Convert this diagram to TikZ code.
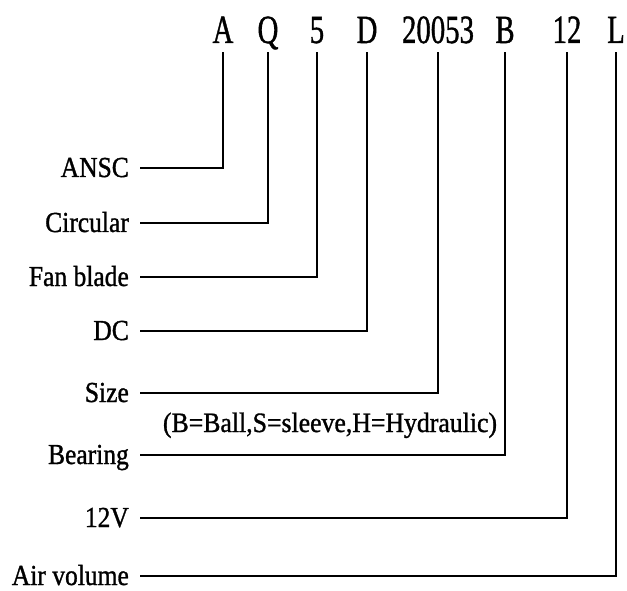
\documentclass[tikz,border=0pt]{standalone}
\usepackage{fontspec}
\setmainfont[FakeBold=1.2]{Liberation Serif}
\begin{document}
\begin{tikzpicture}[x=1pt,y=-1pt,
  toplet/.style={anchor=base,inner sep=0pt,font=\fontsize{40}{40}\selectfont,xscale=0.72},
  lbl/.style={anchor=base east,inner sep=0pt,font=\fontsize{29}{29}\selectfont,xscale=0.88},
  conn/.style={line width=2.6pt,line join=miter}]
\useasboundingbox (0,0) rectangle (627,591);
% top code letters
\node[toplet] (tA) at (223,43) {A};
\node[toplet] (tQ) at (268,43) {Q};
\node[toplet] (t5) at (317,43) {5};
\node[toplet] (tD) at (367,43) {D};
\node[toplet] (tS) at (438,43) {20053};
\node[toplet] (tB) at (505,43) {B};
\node[toplet] (t12) at (567,43) {12};
\node[toplet] (tL) at (616,43) {L};
% labels
\node[lbl] (lA) at (129,177) {ANSC};
\node[lbl] (lQ) at (129,232) {Circular};
\node[lbl] (l5) at (129,286) {Fan blade};
\node[lbl] (lD) at (129,340) {DC};
\node[lbl] (lS) at (129,402) {Size};
\node[lbl] (lB) at (129,464) {Bearing};
\node[lbl] (l12) at (129,527) {12V};
\node[lbl] (lL) at (129,585) {Air volume};
\node[anchor=base,inner sep=0pt,font=\fontsize{28}{28}\selectfont,xscale=0.92] (note) at (330,432) {(B=Ball,S=sleeve,H=Hydraulic)};
% connectors
\foreach \l/\t in {lA/tA,lQ/tQ,l5/t5,lD/tD,lS/tS,lB/tB,l12/t12,lL/tL}{
  \draw[conn] ([xshift=11pt,yshift=9pt]\l.base east) -| ([yshift=-9pt]\t.base);
}
\end{tikzpicture}
\end{document}
